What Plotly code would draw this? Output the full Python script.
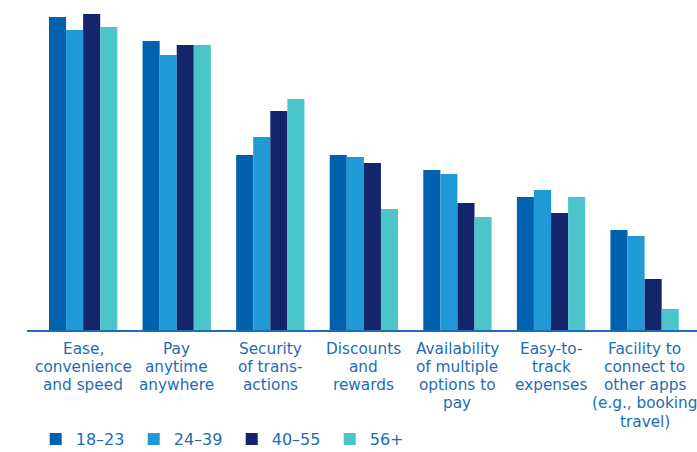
import plotly.graph_objects as go

categories = [
    "Ease,<br>convenience<br>and speed",
    "Pay<br>anytime<br>anywhere",
    "Security<br>of trans-<br>actions",
    "Discounts<br>and<br>rewards",
    "Availability<br>of multiple<br>options to<br>pay",
    "Easy-to-<br>track<br>expenses",
    "Facility to<br>connect to<br>other apps<br>(e.g., booking<br>travel)",
]
series_names = ["18–23", "24–39", "40–55", "56+"]
age_18_23 = [62.6, 57.8, 35.0, 35.0, 32.0, 26.6, 20.0]
age_24_39 = [60.0, 55.0, 38.6, 34.6, 31.2, 28.0, 18.8]
age_40_55 = [63.2, 57.0, 43.8, 33.4, 25.4, 23.4, 10.2]
age_56_plus = [60.6, 57.0, 46.2, 24.2, 22.6, 26.6, 4.2]
colors = ["#0062AE", "#1F9AD6", "#15256B", "#4BC4CA"]

text_color = "#1C6DB5"
label_font = "DejaVu Sans, Open Sans, sans-serif"
legend_font = "DejaVu Sans, Open Sans, sans-serif"

W, H = 697, 452
M_L, M_R, M_T, M_B = 27, 0, 10, 122
plot_h = H - M_T - M_B

fig = go.Figure()
for name, vals, col in zip(series_names, [age_18_23, age_24_39, age_40_55, age_56_plus], colors):
    fig.add_trace(go.Bar(x=list(range(len(categories))), y=vals, name=name,
                         marker=dict(color=col, line=dict(width=0))))

# category labels: one annotation per line to get the tight line spacing
first_line_px = 18.5   # px below the baseline, centre of first line
line_step_px = 18.3
for i, label in enumerate(categories):
    for j, line in enumerate(label.split("<br>")):
        fig.add_annotation(
            x=i, xref="x", y=-(first_line_px + j * line_step_px) / plot_h, yref="paper",
            text=line, showarrow=False, xanchor="center", yanchor="middle",
            font=dict(family=label_font, size=15.3, color=text_color),
        )

fig.update_layout(
    width=W, height=H,
    margin=dict(l=M_L, r=M_R, t=M_T, b=M_B, pad=0, autoexpand=False),
    paper_bgcolor="white", plot_bgcolor="white",
    barmode="group", bargap=0.27, bargroupgap=0,
    showlegend=True,
    legend=dict(orientation="h", x=0.013, xanchor="left", y=-0.341, yanchor="middle",
                font=dict(family=legend_font, size=16, color=text_color),
                entrywidth=53, entrywidthmode="pixels",
                itemclick=False, itemdoubleclick=False, bgcolor="rgba(0,0,0,0)"),
    font=dict(family=label_font, color=text_color),
)
fig.update_xaxes(
    range=[-0.6, 6.56], showgrid=False, zeroline=False, automargin=False,
    showline=True, linecolor="#1C6DB5", linewidth=1.5,
    ticks="", showticklabels=False, fixedrange=True,
)
fig.update_yaxes(range=[0, 64], visible=False, showgrid=False, zeroline=False,
                 automargin=False, fixedrange=True)

fig.write_html("out.html", config={"displayModeBar": False},
               post_script="document.body.style.margin='0';document.body.style.overflow='hidden';")
